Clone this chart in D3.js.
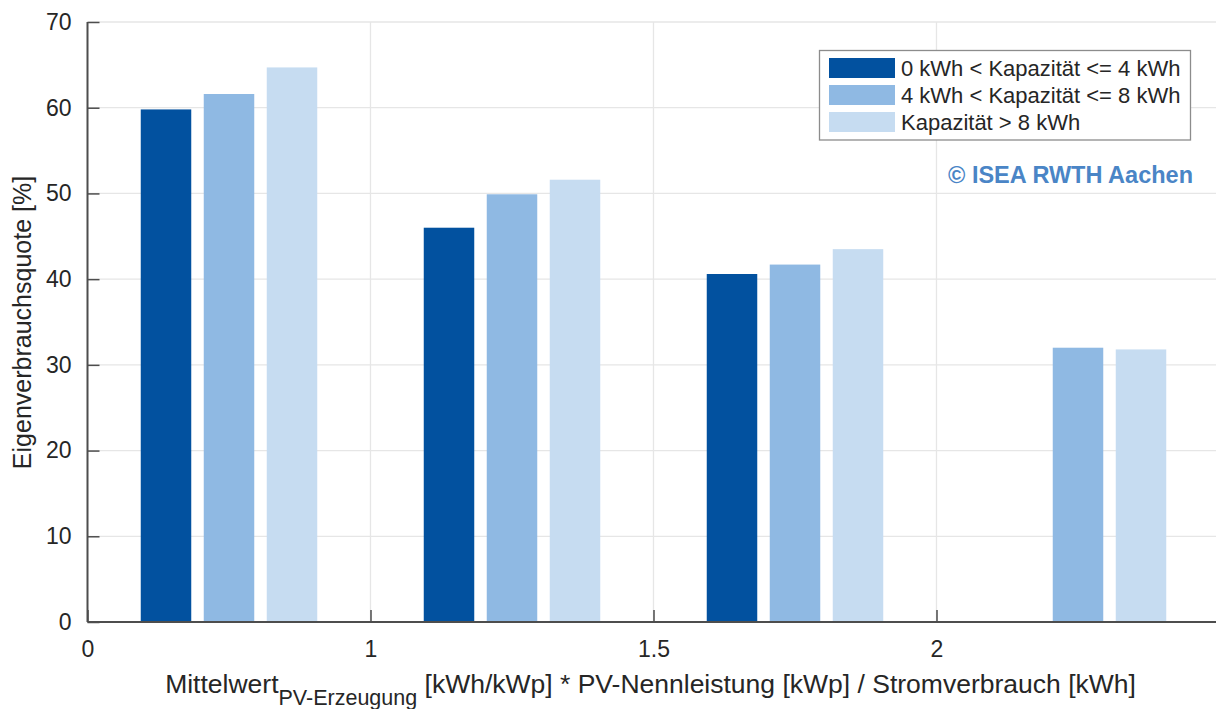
<!DOCTYPE html>
<html><head><meta charset="utf-8">
<script src="https://cdn.jsdelivr.net/npm/d3@7"></script>
<style>body{margin:0;background:#fff;overflow:hidden}svg{display:block;font-family:"Liberation Sans",Arial,sans-serif}</style>
</head><body><svg id="c" width="1216" height="709"></svg>
<script>
const xTickLabels = ["0", "1", "1.5", "2"];
const groups = ["0-1", "1-1.5", "1.5-2", ">2"];
const seriesNames = ["0 kWh < Kapazität <= 4 kWh", "4 kWh < Kapazität <= 8 kWh", "Kapazität > 8 kWh"];
const seriesColors = ["#02519f", "#8fb9e3", "#c6dcf1"];
const valuesSmall = [59.8, 46.0, 40.6, null];
const valuesMid = [61.6, 49.9, 41.7, 32.0];
const valuesLarge = [64.7, 51.6, 43.5, 31.8];
const yTicks = [0, 10, 20, 30, 40, 50, 60, 70];

(function () {
const series = [valuesSmall, valuesMid, valuesLarge];
const svg = d3.select("#c");
const pLeft = 87.5, pTop = 22, pBottom = 622;
const x = d3.scaleLinear().domain([0, 4]).range([pLeft, pLeft + 4 * 283]);
const y = d3.scaleLinear().domain([0, 70]).range([pBottom, pTop]);
const W = 1216;
const ink = "#262626", axisCol = "#4d4d4d";

// grid
const grid = svg.append("g");
grid.selectAll("line.h").data(yTicks.slice(1)).join("line")
  .attr("x1", pLeft).attr("x2", W).attr("y1", d => y(d)).attr("y2", d => y(d))
  .attr("stroke", "#e6e6e6").attr("stroke-width", 1.3);
grid.selectAll("line.v").data([1, 2, 3]).join("line")
  .attr("x1", d => x(d)).attr("x2", d => x(d)).attr("y1", pTop).attr("y2", pBottom)
  .attr("stroke", "#e6e6e6").attr("stroke-width", 1.3);

// bars
const barW = 50.5, pitch = 63;
series.forEach((vals, si) => {
  svg.append("g").selectAll("rect").data(vals.map((v, gi) => ({v, gi})).filter(d => d.v != null)).join("rect")
    .attr("x", d => x(d.gi + 0.5) + (si - 1) * pitch - barW / 2)
    .attr("width", barW)
    .attr("y", d => y(d.v))
    .attr("height", d => y(0) - y(d.v))
    .attr("fill", seriesColors[si]);
});

// axes
const yAxis = d3.axisLeft(y).tickValues(yTicks).tickSize(-12).tickPadding(16).tickFormat(d3.format("d"));
const gy = svg.append("g").attr("transform", `translate(${pLeft},0)`).call(yAxis);
const xAxis = d3.axisBottom(x).tickValues([0, 1, 2, 3]).tickSize(-12).tickPadding(19)
  .tickFormat((d, i) => xTickLabels[i]);
const gx = svg.append("g").attr("transform", `translate(0,${pBottom})`).call(xAxis);
[gx, gy].forEach(g => {
  g.select(".domain").attr("stroke", axisCol).attr("stroke-width", 2);
  g.selectAll(".tick line").attr("stroke", axisCol).attr("stroke-width", 1.5);
  g.selectAll(".tick text").attr("fill", ink).style("font-size", "23px");
});
gy.select(".domain").attr("d", `M0,${pBottom}V${pTop}`);
gx.select(".domain").attr("d", `M${pLeft},0H${W}`);
gy.selectAll(".tick line").attr("x1", 0).attr("x2", 12);
gy.selectAll(".tick text").attr("x", -16);
gx.selectAll(".tick line").attr("y1", 0).attr("y2", -12);
gx.selectAll(".tick text").attr("y", 19).attr("dy", "0.71em");

// axis labels
svg.append("text").attr("transform", `translate(31,322.5) rotate(-90)`).attr("text-anchor", "middle")
  .attr("fill", ink).style("font-size", "25px").text("Eigenverbrauchsquote [%]");
const xl = svg.append("text").attr("x", 650.5).attr("y", 693).attr("text-anchor", "middle")
  .attr("fill", ink).style("font-size", "26.5px");
xl.append("tspan").text("Mittelwert");
xl.append("tspan").attr("dy", 12).style("font-size", "21.5px").text("PV-Erzeugung");
xl.append("tspan").attr("dy", -12).text(" [kWh/kWp] * PV-Nennleistung [kWp] / Stromverbrauch [kWh]");

// legend
const lg = svg.append("g");
lg.append("rect").attr("x", 819.5).attr("y", 50.5).attr("width", 371).attr("height", 89.5)
  .attr("fill", "#fff").attr("stroke", "#8c8c8c").attr("stroke-width", 1.3);
seriesNames.forEach((n, i) => {
  const cy = 68 + i * 27;
  lg.append("rect").attr("x", 829).attr("y", cy - 10).attr("width", 66).attr("height", 20).attr("fill", seriesColors[i]);
  lg.append("text").attr("x", 901).attr("y", cy).attr("dy", "0.35em").attr("fill", ink)
    .style("font-size", "22px").text(n);
});

svg.append("text").attr("x", 1193).attr("y", 183).attr("text-anchor", "end")
  .attr("fill", "#4a85c6").style("font-size", "23.5px").style("font-weight", "bold").text("© ISEA RWTH Aachen");
})();
</script></body></html>
